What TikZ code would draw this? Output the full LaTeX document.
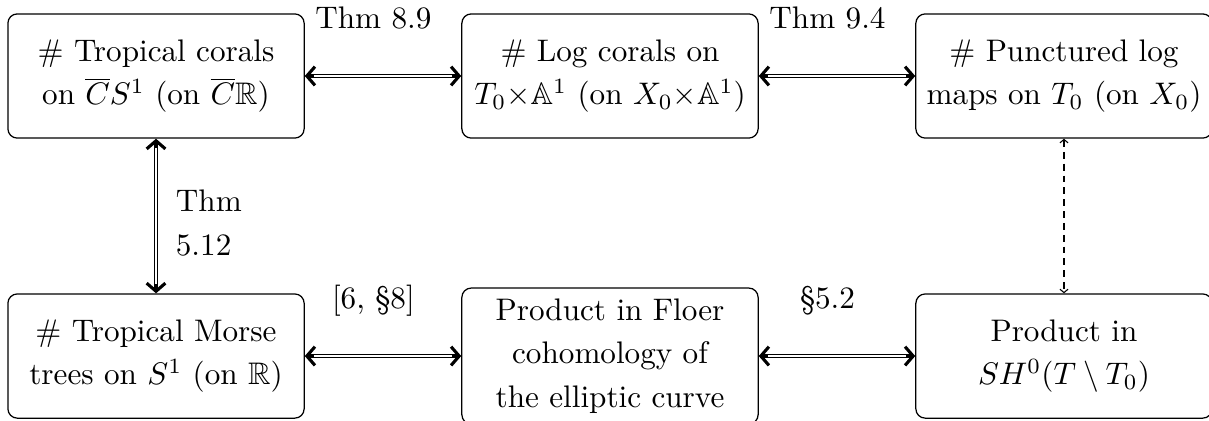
\documentclass[tikz,border=0pt]{standalone}
\usepackage{amsmath,amssymb}
\usepackage{xcolor}
\usepackage{tikz}
\usetikzlibrary{arrows.meta,positioning}
\definecolor{ink}{HTML}{000000}
\definecolor{bg}{HTML}{FFFFFF}
\tikzset{
  box/.style={draw=ink, rounded corners=3pt, line width=0.4pt, align=center,
    minimum width=3.34cm, minimum height=1.4cm, font=\linespread{1.17}\selectfont},
  eqv/.style={draw=ink, line width=1.4pt,
    {Straight Barb[length=2.6pt, width=6pt, line width=1pt]}-{Straight Barb[length=2.6pt, width=6pt, line width=1pt]},
    postaction={draw=bg, line width=0.6pt, -, shorten <=2.9pt, shorten >=2.9pt}},
  weak/.style={draw=ink, line width=0.35pt, dash pattern=on 2.2pt off 1.6pt,
    {Straight Barb[length=1.1pt, width=2.6pt]}-{Straight Barb[length=1.1pt, width=2.6pt]}},
  lab/.style={text=ink, anchor=base},
  labv/.style={text=ink, anchor=west, align=left, font=\linespread{1.17}\selectfont},
}
\begin{document}
\begin{tikzpicture}[scale=1.0]
\useasboundingbox (-1.759,0.857) rectangle (11.871,-3.889);
\node[box] (trop) at (0,0) {\# Tropical corals\\on $\overline{C}S^1$ (on $\overline{C}\mathbb{R}$)};
\node[box] (logc) at (5.118,0) {\# Log corals on\\$T_0{\times}\mathbb{A}^1$ (on $X_0{\times}\mathbb{A}^1$)};
\node[box] (punc) at (10.236,0) {\# Punctured log\\maps on $T_0$ (on $X_0$)};
\node[box] (morse) at (0,-3.157) {\# Tropical Morse\\trees on $S^1$ (on $\mathbb{R}$)};
\node[box] (floer) at (5.118,-3.157) {Product in Floer\\cohomology of\\the elliptic curve};
\node[box] (shz) at (10.236,-3.157) {Product in\\$SH^0(T \setminus T_0)$};
\draw[eqv] (trop) -- (logc);
\draw[eqv] (logc) -- (punc);
\draw[eqv] (trop) -- (morse);
\draw[eqv] (morse) -- (floer);
\draw[eqv] (floer) -- (shz);
\draw[weak] (punc) -- (shz);
\node[lab] (t89) at (2.45,0.54) {Thm 8.9};
\node[lab] (t94) at (7.57,0.54) {Thm 9.4};
\node[lab] (r68) at (2.45,-2.617) {[6, \S8]};
\node[lab] (s52) at (7.57,-2.617) {\S5.2};
\node[labv] (t512) at (0.1,-1.66) {Thm\\5.12};
\end{tikzpicture}
\end{document}
